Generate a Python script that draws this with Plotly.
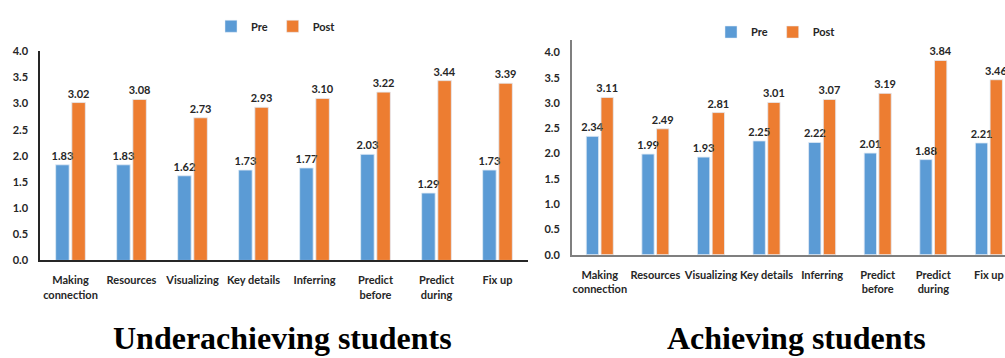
import plotly.graph_objects as go

categories = ["Making<br>connection", "Resources", "Visualizing", "Key details",
              "Inferring", "Predict<br>before", "Predict<br>during", "Fix up"]

under_pre = [1.83, 1.83, 1.62, 1.73, 1.77, 2.03, 1.29, 1.73]
under_post = [3.02, 3.08, 2.73, 2.93, 3.10, 3.22, 3.44, 3.39]
ach_pre = [2.34, 1.99, 1.93, 2.25, 2.22, 2.01, 1.88, 2.21]
ach_post = [3.11, 2.49, 2.81, 3.01, 3.07, 3.19, 3.84, 3.46]

y_ticks = [0.0, 0.5, 1.0, 1.5, 2.0, 2.5, 3.0, 3.5, 4.0]
y_ticktext = [f"{v:.1f}" for v in y_ticks]

titles = ["Underachieving students", "Achieving students"]

BLUE = "#5B9BD5"
ORANGE = "#ED7D31"
TXT = "#262626"
FONT = "Lato"

W, H = 1005, 358

def px_x(p):
    return p / W

def px_y(p):
    return (H - p) / H

fig = go.Figure()

label_font = dict(family=FONT, size=11, color=TXT, weight="bold")

def add_pair(pre, post, xa, ya, xl, yl, legend):
    # bars
    fig.add_trace(go.Bar(x=categories, y=pre, name="Pre", marker_color=BLUE,
                         xaxis=xa, yaxis=ya, legend=legend, hoverinfo="skip"))
    fig.add_trace(go.Bar(x=categories, y=post, name="Post", marker_color=ORANGE,
                         xaxis=xa, yaxis=ya, legend=legend, hoverinfo="skip"))
    # value labels on an overlaid layer so they sit above all bars
    for vals in (pre, post):
        fig.add_trace(go.Bar(x=categories, y=vals, marker_color="rgba(0,0,0,0)",
                             text=[f"{v:.2f}" for v in vals], textposition="outside",
                             textfont=label_font, cliponaxis=False, showlegend=False,
                             xaxis=xl, yaxis=yl, hoverinfo="skip"))

add_pair(under_pre, under_post, "x", "y", "x3", "y3", "legend")
add_pair(ach_pre, ach_post, "x2", "y2", "x4", "y4", "legend2")

tickfont = dict(family=FONT, size=11, color=TXT, weight="bold")

fig.update_layout(
    width=W, height=H,
    margin=dict(l=0, r=0, t=0, b=0),
    paper_bgcolor="white", plot_bgcolor="white",
    barmode="group", bargap=0.47, bargroupgap=0.16,
    uniformtext=dict(minsize=8, mode="show"),
    xaxis=dict(domain=[px_x(40), px_x(528)], anchor="y",
               tickfont=tickfont, showline=True, linecolor="#262626", linewidth=1.5,
               ticks="", ticklabelstandoff=9, showgrid=False,
               range=[-0.5, 7.5]),
    yaxis=dict(domain=[px_y(263), px_y(46)], anchor="x", range=[0, 4.0],
               tickvals=y_ticks, ticktext=y_ticktext, tickfont=tickfont,
               showline=True, linecolor="#262626", linewidth=1.5,
               showgrid=False, zeroline=False, ticks="", ticklabelstandoff=8),
    xaxis3=dict(overlaying="x", anchor="y3", range=[-0.5, 7.5], visible=False),
    yaxis3=dict(overlaying="y", anchor="x3", range=[0, 4.0], visible=False),
    xaxis2=dict(domain=[px_x(572), 1.0], anchor="y2",
                tickfont=tickfont, showline=True, linecolor="#7f7f7f", linewidth=2,
                ticks="", ticklabelstandoff=9, showgrid=False,
                range=[-0.5, 7.29]),
    yaxis2=dict(domain=[px_y(257), px_y(34)], anchor="x2", range=[0, 4.25],
                tickvals=y_ticks, ticktext=y_ticktext, tickfont=tickfont,
                showline=True, linecolor="#7f7f7f", linewidth=2,
                showgrid=False, zeroline=False, ticks="", ticklabelstandoff=8),
    xaxis4=dict(overlaying="x2", anchor="y4", range=[-0.5, 7.29], visible=False),
    yaxis4=dict(overlaying="y2", anchor="x4", range=[0, 4.25], visible=False),
    legend=dict(orientation="h", x=px_x(276), xanchor="center",
                y=px_y(20), yanchor="middle",
                font=dict(family=FONT, size=11, color=TXT, weight="bold"),
                itemwidth=30, bgcolor="rgba(0,0,0,0)"),
    legend2=dict(orientation="h", x=px_x(776), xanchor="center",
                 y=px_y(26), yanchor="middle",
                 font=dict(family=FONT, size=11, color=TXT, weight="bold"),
                 itemwidth=30, bgcolor="rgba(0,0,0,0)"),
    annotations=[
        dict(text=titles[0], x=px_x(282), y=px_y(343), xref="paper", yref="paper",
             xanchor="center", yanchor="middle", showarrow=False,
             font=dict(family="Liberation Serif", size=32, color="black", weight="bold")),
        dict(text=titles[1], x=px_x(796), y=px_y(343), xref="paper", yref="paper",
             xanchor="center", yanchor="middle", showarrow=False,
             font=dict(family="Liberation Serif", size=32, color="black", weight="bold")),
    ],
)

fig.write_html("out.html", config={"displayModeBar": False},
               post_script="document.body.style.margin='0px';document.body.style.overflow='hidden';")
